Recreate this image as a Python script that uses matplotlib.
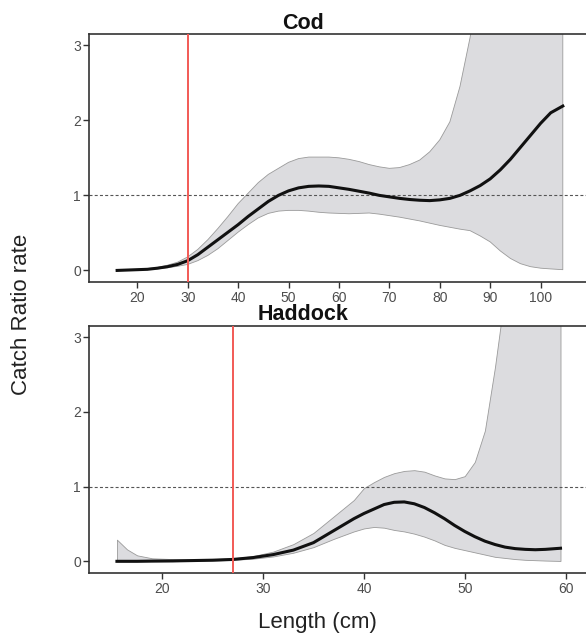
import numpy as np
import matplotlib.pyplot as plt

plt.rcParams['font.family'] = ['Liberation Sans', 'DejaVu Sans']

# Cod: length (cm), fitted catch ratio and confidence band
cod_len = [16, 18, 20, 22, 24, 26, 28, 30, 32, 34, 36, 38, 40, 42, 44, 46, 48, 50,
           52, 54, 56, 58, 60, 62, 64, 66, 68, 70, 72, 74, 76, 78, 80, 82, 84, 86,
           88, 90, 92, 94, 96, 98, 100, 102, 104.4]
cod_fit = [0.0, 0.005, 0.01, 0.015, 0.03, 0.05, 0.08, 0.13, 0.21, 0.31, 0.41, 0.51,
           0.61, 0.72, 0.82, 0.92, 1.0, 1.06, 1.10, 1.12, 1.125, 1.12, 1.10, 1.08,
           1.055, 1.03, 1.0, 0.98, 0.96, 0.945, 0.935, 0.93, 0.94, 0.96, 1.0, 1.06,
           1.13, 1.22, 1.34, 1.48, 1.64, 1.80, 1.96, 2.10, 2.19]
cod_lo = [0.0, 0.002, 0.005, 0.01, 0.02, 0.035, 0.055, 0.08, 0.13, 0.20, 0.29, 0.40,
          0.51, 0.61, 0.70, 0.76, 0.79, 0.80, 0.80, 0.79, 0.775, 0.765, 0.76, 0.755,
          0.76, 0.765, 0.75, 0.73, 0.71, 0.685, 0.66, 0.63, 0.60, 0.575, 0.55, 0.53,
          0.46, 0.38, 0.26, 0.16, 0.09, 0.05, 0.03, 0.02, 0.01]
cod_hi = [0.005, 0.008, 0.015, 0.025, 0.04, 0.07, 0.11, 0.18, 0.28, 0.41, 0.56, 0.72,
          0.89, 1.03, 1.17, 1.28, 1.36, 1.44, 1.49, 1.51, 1.51, 1.51, 1.50, 1.48,
          1.45, 1.41, 1.38, 1.36, 1.37, 1.41, 1.47, 1.58, 1.74, 1.98, 2.45, 3.1,
          3.9, 4.8, 5.6, 6.4, 7.2, 8.0, 8.8, 9.6, 10.4]

# Haddock
had_len = [15.5, 16.5, 17.5, 19, 21, 23, 25, 27, 29, 31, 33, 35, 37, 39, 40, 41, 42,
           43, 44, 45, 46, 47, 48, 49, 50, 51, 52, 53, 54, 55, 56, 57, 58, 59.5]
had_fit = [0.0, 0.0, 0.0, 0.003, 0.005, 0.01, 0.015, 0.025, 0.05, 0.09, 0.15, 0.25,
           0.41, 0.57, 0.64, 0.70, 0.76, 0.79, 0.795, 0.77, 0.72, 0.65, 0.57, 0.48,
           0.40, 0.33, 0.27, 0.225, 0.19, 0.17, 0.16, 0.155, 0.16, 0.175]
had_lo = [0.0, 0.0, 0.0, 0.0, 0.002, 0.005, 0.01, 0.02, 0.035, 0.065, 0.115, 0.19,
          0.30, 0.40, 0.44, 0.46, 0.45, 0.42, 0.40, 0.37, 0.33, 0.28, 0.22, 0.18,
          0.15, 0.12, 0.09, 0.06, 0.045, 0.03, 0.02, 0.015, 0.01, 0.005]
had_hi = [0.29, 0.16, 0.08, 0.04, 0.03, 0.025, 0.03, 0.04, 0.07, 0.13, 0.23, 0.38,
          0.60, 0.82, 0.98, 1.06, 1.13, 1.18, 1.21, 1.22, 1.20, 1.15, 1.11, 1.10,
          1.14, 1.33, 1.75, 2.6, 3.6, 4.5, 5.2, 6.0, 6.8, 8.0]

panels = [
    dict(title="Cod", x=cod_len, fit=cod_fit, lo=cod_lo, hi=cod_hi, mls=30,
         xlim=(10.48, 109.0), xticks=[20, 30, 40, 50, 60, 70, 80, 90, 100],
         rect=[0.1524, 0.5564, 0.8476, 0.3901], title_y=0.9633),
    dict(title="Haddock", x=had_len, fit=had_fit, lo=had_lo, hi=had_hi, mls=27,
         xlim=(12.76, 62.03), xticks=[20, 30, 40, 50, 60],
         rect=[0.1524, 0.0984, 0.8476, 0.3882], title_y=0.5040),
]

fig = plt.figure(figsize=(5.86, 6.35), dpi=100)

for p in panels:
    ax = fig.add_axes(p["rect"])
    # confidence band, fitted curve, reference line at 1 and minimum landing size
    ax.fill_between(p["x"], p["lo"], p["hi"], color="#dcdcdf",
                    edgecolor="#9a9a9a", linewidth=0.6, zorder=1)
    ax.plot(p["x"], p["fit"], color="#111111", linewidth=2.2, zorder=3,
            solid_joinstyle="round")
    ax.axhline(1, color="#555555", linewidth=0.8, linestyle=(0, (2.7, 2)), zorder=2)
    ax.axvline(p["mls"], color="#f25a55", linewidth=1.4, zorder=4)
    ax.set_xlim(p["xlim"])
    ax.set_ylim(-0.15, 3.15)
    ax.set_xticks(p["xticks"])
    ax.set_yticks([0, 1, 2, 3])
    ax.spines["right"].set_visible(False)
    for s in ["left", "bottom", "top"]:
        ax.spines[s].set_color("#333333")
        ax.spines[s].set_linewidth(1.2)
    ax.tick_params(axis="both", direction="out", length=4, width=1.0,
                   color="#333333", labelcolor="#4d4d4d", labelsize=10, pad=2)
    ax.tick_params(axis="x", pad=3)
    fig.text(0.5166, p["title_y"], p["title"], ha="center", va="center",
             fontsize=15.5, fontweight="bold", color="#111111")

fig.text(0.037, 0.5055, "Catch Ratio rate", rotation=90, ha="center", va="center",
         fontsize=16, color="#222222")
fig.text(0.542, 0.0194, "Length (cm)", ha="center", va="center",
         fontsize=16, color="#222222")

fig.savefig("out.png", dpi=100)
